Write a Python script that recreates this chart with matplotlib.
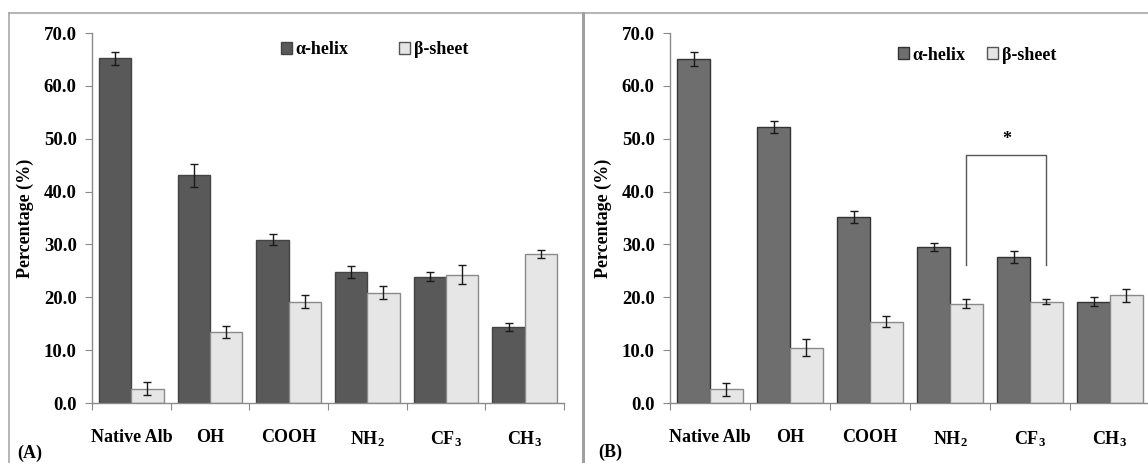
import matplotlib
matplotlib.use("Agg")
import matplotlib.pyplot as plt
from matplotlib.patches import Patch
from matplotlib.lines import Line2D
import numpy as np

plt.rcParams["font.family"] = ["Liberation Serif", "DejaVu Serif"]
plt.rcParams["font.weight"] = "bold"
plt.rcParams["axes.labelweight"] = "bold"
plt.rcParams["mathtext.fontset"] = "custom"
plt.rcParams["mathtext.rm"] = "Liberation Serif:bold"
plt.rcParams["mathtext.bf"] = "Liberation Serif:bold"
plt.rcParams["mathtext.default"] = "bf"

groups = ["Native Alb", "OH", "COOH", r"NH$_2$", r"CF$_3$", r"CH$_3$"]

# (A) secondary structure content
helix_a = [65.2, 43.1, 30.9, 24.8, 23.9, 14.4]
helix_a_err = [1.2, 2.2, 1.1, 1.1, 0.9, 0.7]
sheet_a = [2.7, 13.4, 19.2, 20.9, 24.3, 28.2]
sheet_a_err = [1.2, 1.1, 1.3, 1.2, 1.8, 0.7]

# (B) secondary structure content
helix_b = [65.1, 52.2, 35.2, 29.5, 27.6, 19.2]
helix_b_err = [1.4, 1.1, 1.2, 0.7, 1.1, 0.9]
sheet_b = [2.6, 10.5, 15.4, 18.8, 19.2, 20.4]
sheet_b_err = [1.2, 1.6, 1.1, 0.9, 0.5, 1.2]

# significance bracket in (B): NH2 vs CF3 beta-sheet
bracket_pair = (3, 4)
bracket_top = 46.9
bracket_leg = 26.2

W, H = 1148, 463
fig = plt.figure(figsize=(W / 100, H / 100), dpi=100)

grey = "#8a8a8a"
light = "#e6e6e6"


def draw_panel(ax, helix, helix_err, sheet, sheet_err, dark, dark_edge):
    x = np.arange(len(groups)) + 0.5
    w = 0.41
    ax.bar(x - w / 2, helix, w, color=dark, edgecolor=dark_edge, linewidth=1.0, zorder=2)
    ax.bar(x + w / 2, sheet, w, color=light, edgecolor=grey, linewidth=1.0, zorder=2)
    ax.errorbar(x - w / 2, helix, yerr=helix_err, fmt="none", ecolor="#1a1a1a",
                elinewidth=1.0, capsize=3, capthick=1.0, zorder=3)
    ax.errorbar(x + w / 2, sheet, yerr=sheet_err, fmt="none", ecolor="#1a1a1a",
                elinewidth=1.0, capsize=3, capthick=1.0, zorder=3)
    ax.set_xlim(0, len(groups))
    ax.set_ylim(0, 70)
    ax.set_yticks(np.arange(0, 71, 10))
    ax.set_yticklabels([f"{v:.1f}" for v in np.arange(0, 71, 10)], fontsize=13.5)
    ax.set_xticks(np.arange(len(groups) + 1))
    ax.set_xticklabels([])
    ax.set_xticks(x, minor=True)
    ax.set_xticklabels(groups, minor=True, fontsize=13)
    ax.tick_params(axis="x", which="major", length=5, color=grey, direction="out")
    ax.tick_params(axis="x", which="minor", length=0, pad=19)
    ax.tick_params(axis="y", length=5, color=grey, pad=6)
    for s in ["top", "right"]:
        ax.spines[s].set_visible(False)
    for s in ["left", "bottom"]:
        ax.spines[s].set_color(grey)
        ax.spines[s].set_linewidth(1.0)
    ax.set_ylabel("Percentage (%)", fontsize=13, labelpad=7)
    return x, w


bottom = (H - 403) / H
height = 370 / H

axA = fig.add_axes([92 / W, bottom, 472 / W, height])
draw_panel(axA, helix_a, helix_a_err, sheet_a, sheet_a_err, "#595959", "#444444")
axA.legend(handles=[Patch(facecolor="#595959", edgecolor="#444444", label="α-helix"),
                    Patch(facecolor=light, edgecolor="#555555", label="β-sheet")],
           loc="center left", bbox_to_anchor=(265 / W, 1 - 50 / H),
           bbox_transform=fig.transFigure, ncol=2, frameon=False, fontsize=13,
           handlelength=0.6, handleheight=0.6, handletextpad=0.2, columnspacing=2.8)

axB = fig.add_axes([670 / W, bottom, 480 / W, height])
x, w = draw_panel(axB, helix_b, helix_b_err, sheet_b, sheet_b_err, "#6e6e6e", "#333333")
axB.legend(handles=[Patch(facecolor="#6e6e6e", edgecolor="#333333", label="α-helix"),
                    Patch(facecolor=light, edgecolor="#555555", label="β-sheet")],
           loc="center left", bbox_to_anchor=(882 / W, 1 - 55 / H),
           bbox_transform=fig.transFigure, ncol=2, frameon=False, fontsize=13,
           handlelength=0.6, handleheight=0.6, handletextpad=0.2, columnspacing=1.2)

i, j = bracket_pair
bx = [x[i] + w / 2, x[i] + w / 2, x[j] + w / 2, x[j] + w / 2]
axB.plot(bx, [bracket_leg, bracket_top, bracket_top, bracket_leg],
         color="#555555", linewidth=1.0, zorder=4)
axB.text((bx[0] + bx[-1]) / 2, bracket_top + 3.0, "*", ha="center", va="center", fontsize=13)

# panel frames
frame = dict(color="#a8a8a8", linewidth=1.2, transform=fig.transFigure)
fig.add_artist(Line2D([9 / W, 1], [1 - 12.5 / H] * 2, **frame))
fig.add_artist(Line2D([9 / W] * 2, [0, 1 - 12.5 / H], **frame))
fig.add_artist(Line2D([583 / W] * 2, [0, 1 - 12.5 / H], color="#a0a0a0",
                      linewidth=2.2, transform=fig.transFigure))

fig.text(17 / W, 1 - 453 / H, "(A)", fontsize=13, va="center", ha="left")
fig.text(598 / W, 1 - 452 / H, "(B)", fontsize=13, va="center", ha="left")

fig.savefig("out.png", dpi=100)
